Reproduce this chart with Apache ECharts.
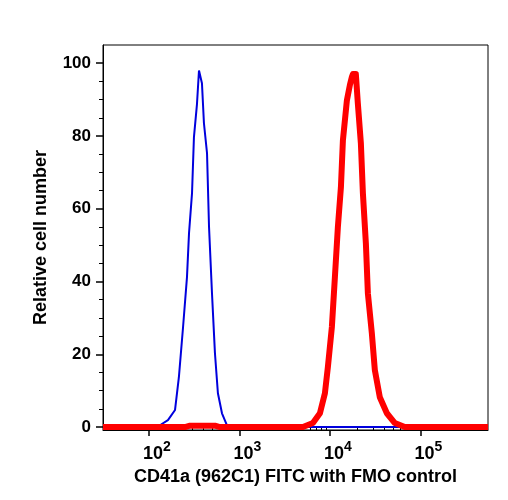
<!DOCTYPE html>
<html>
<head>
<meta charset="utf-8">
<script src="https://cdn.jsdelivr.net/npm/echarts@6/dist/echarts.min.js"></script>
<style>
html, body { margin: 0; padding: 0; background: #fff; }
#main { width: 508px; height: 500px; }
</style>
</head>
<body>
<div id="main"></div>
<script>
var chart = echarts.init(document.getElementById('main'));

// FMO control (blue)
var blueX = [31, 103, 132, 162, 194, 214, 238, 263, 277, 299, 314, 339, 357, 385, 405, 438, 461, 497, 536, 578, 641, 728, 847, 560000];
var blueY = [0, 0, 0.5, 1.9, 4.7, 13.7, 27.5, 41.2, 53.3, 64.3, 79.7, 88.7, 98, 94.5, 83.5, 75.3, 55, 36.8, 20.3, 9.3, 3.8, 0.5, 0, 0];
// CD41a FITC (red)
var redX = [31, 250, 284, 536, 609, 5035, 6490, 7760, 8810, 9500, 10520, 11360, 12250, 13240, 13930, 15420, 16640, 17500, 17950, 19370, 20370, 22010, 23170, 25000, 26300, 29100, 31400, 35650, 42660, 52240, 67400, 560000];
var redY = [0, 0, 0.4, 0.4, 0, 0, 1.1, 3.8, 9.3, 16.5, 27.5, 41.2, 54.9, 65.9, 78.8, 89.8, 94, 96.2, 97, 97, 89, 78, 64.3, 50.5, 36.8, 25.8, 15.7, 8.2, 3.8, 1.1, 0, 0];

var xMajor = [100, 1000, 10000, 100000];
var xMinor = [40, 50, 60, 70, 80, 90, 200, 300, 400, 500, 600, 700, 800, 900,
  2000, 3000, 4000, 5000, 6000, 7000, 8000, 9000,
  20000, 30000, 40000, 50000, 60000, 70000, 80000, 90000,
  200000, 300000, 400000, 500000];
var yMajor = [0, 20, 40, 60, 80, 100];
var yMinor = [5, 10, 15, 25, 30, 35, 45, 50, 55, 65, 70, 75, 85, 90, 95];

function zip(xs, ys) {
  return xs.map(function (x, i) { return [x, ys[i]]; });
}

var font = 'Liberation Sans, Arial, sans-serif';
var xMin = 31, xMax = 560000, yMin = -0.8, yMax = 105;

var option = {
  animation: false,
  backgroundColor: '#fff',
  grid: {
    left: 103, right: 20, top: 45, bottom: 70,
    show: true, borderColor: '#000', borderWidth: 1
  },
  xAxis: [{
    type: 'log', logBase: 10, min: xMin, max: xMax,
    position: 'bottom',
    name: 'CD41a (962C1) FITC with FMO control',
    nameLocation: 'middle', nameGap: 36,
    nameTextStyle: { color: '#000', fontSize: 18, fontWeight: 'bold', fontFamily: font },
    axisLine: { onZero: false, lineStyle: { color: '#000', width: 1 } },
    axisTick: { customValues: xMajor, length: 6, inside: false, lineStyle: { color: '#000', width: 1.5 } },
    minorTick: { show: false },
    splitLine: { show: false },
    axisLabel: {
      customValues: xMajor, margin: 10,
      formatter: function (v) {
        return '{p|}{b|10}{s|' + Math.round(Math.log10(v)) + '}';
      },
      rich: {
        p: { width: 16 },
        b: { fontSize: 18, fontWeight: 'bold', color: '#000', fontFamily: font },
        s: { fontSize: 14, fontWeight: 'bold', color: '#000', fontFamily: font, padding: [0, 0, 14, 0] }
      }
    }
  }, {
    type: 'log', logBase: 10, min: xMin, max: xMax,
    position: 'bottom',
    axisLine: { show: false },
    axisTick: { customValues: xMinor, length: 3, inside: false, lineStyle: { color: '#000', width: 1 } },
    axisLabel: { show: false },
    splitLine: { show: false }
  }],
  yAxis: [{
    type: 'value', min: yMin, max: yMax,
    position: 'left',
    name: 'Relative cell number',
    nameLocation: 'middle', nameGap: 53,
    nameTextStyle: { color: '#000', fontSize: 18, fontWeight: 'bold', fontFamily: font },
    axisLine: { show: true, lineStyle: { color: '#000', width: 1 } },
    axisTick: { customValues: yMajor, length: 7, inside: false, lineStyle: { color: '#000', width: 1.5 } },
    splitLine: { show: false },
    axisLabel: {
      customValues: yMajor, margin: 12,
      color: '#000', fontSize: 17, fontWeight: 'bold', fontFamily: font
    }
  }, {
    type: 'value', min: yMin, max: yMax,
    position: 'left',
    axisLine: { show: false },
    axisTick: { customValues: yMinor, length: 4, inside: false, lineStyle: { color: '#000', width: 1 } },
    axisLabel: { show: false },
    splitLine: { show: false }
  }],
  series: [{
    name: 'FMO control',
    type: 'line',
    xAxisIndex: 0, yAxisIndex: 0,
    data: zip(blueX, blueY),
    showSymbol: false,
    lineStyle: { color: '#0000dd', width: 2 },
    z: 2
  }, {
    name: 'CD41a FITC',
    type: 'line',
    xAxisIndex: 0, yAxisIndex: 0,
    data: zip(redX, redY),
    showSymbol: false,
    lineStyle: { color: '#ff0000', width: 6, join: 'round' },
    z: 3
  }]
};

chart.setOption(option);
</script>
</body>
</html>
